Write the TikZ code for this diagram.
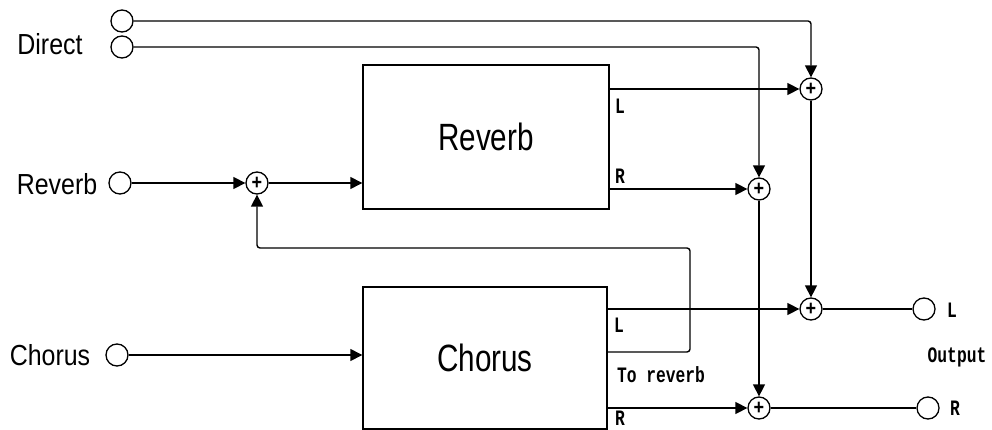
\documentclass[tikz,border=0pt]{standalone}
\usepackage{fontspec}
\usetikzlibrary{arrows.meta}
\newfontfamily\lblfont[FakeStretch=0.86]{Liberation Sans}
\newfontfamily\boxfont[FakeStretch=0.78]{Liberation Sans}
\newfontfamily\monofont[FakeStretch=0.74]{Liberation Mono}
\tikzset{
  wire/.style={line width=1.4pt, rounded corners=3pt},
  arr/.style={wire, -{Triangle[length=12pt,width=12pt]}},
  port/.style={circle, draw, line width=1.3pt, minimum size=22pt, inner sep=0pt},
  adder/.style={circle, draw, line width=1.3pt, minimum size=22pt, inner sep=0pt, font=\lblfont\bfseries\fontsize{21}{21}\selectfont},
  blockbox/.style={rectangle, draw, line width=1.4pt, inner sep=0pt, font=\boxfont\fontsize{38}{38}\selectfont},
  inlabel/.style={font=\lblfont\fontsize{29}{29}\selectfont, inner sep=0pt},
  small/.style={font=\monofont\bfseries\fontsize{22}{22}\selectfont, inner sep=0pt}
}
\begin{document}
\begin{tikzpicture}[x=1pt, y=-1pt]
\useasboundingbox (0,0) rectangle (992,430);
% input ports
\node[port] (d1) at (122,21) {};
\node[port] (d2) at (122,47) {};
\node[port] (rin) at (120,183) {};
\node[port] (cin) at (117,355) {};
\node[inlabel] (ldirect) at (50,44) {Direct};
\node[inlabel] (lreverb) at (57,184) {Reverb};
\node[inlabel] (lchorus) at (50,355) {Chorus};
% blocks
\node[blockbox, minimum width=246pt, minimum height=144pt] (rev) at (486,137) {Reverb};
\node[blockbox, minimum width=244pt, minimum height=142pt] (cho) at (485,358) {Chorus};
% adders
\node[adder] (a0) at (257,183) {+};
\node[adder] (a1) at (811,89) {+};
\node[adder] (a2) at (759,189) {+};
\node[adder] (a3) at (811,309) {+};
\node[adder] (a4) at (759,408) {+};
% outputs
\node[port] (oL) at (924,309) {};
\node[port] (oR) at (928,408) {};
% small labels
\node[small] (revL) at (620,106) {L};
\node[small] (revR) at (620,176) {R};
\node[small] (choL) at (619,325) {L};
\node[small] (tor) at (661,375) {To reverb};
\node[small] (choR) at (620,418) {R};
\node[small] (outL) at (952,310) {L};
\node[small] (outtext) at (957,357) {Output};
\node[small] (outR) at (955,408) {R};
% coordinates
\coordinate (fbA) at (607,352);
\coordinate (fbB) at (690,352);
\coordinate (fbC) at (690,248);
\coordinate (fbD) at (257,248);
% connectors
\draw[arr] (d1) -- (d1 -| a1) -- (a1);
\draw[arr] (d2) -- (d2 -| a2) -- (a2);
\draw[arr] (rin) -- (a0);
\draw[arr] (a0) -- (a0 -| rev.west);
\draw[arr] (cin) -- (cin -| cho.west);
\draw[arr] (rev.east |- a1) -- (a1);
\draw[arr] (rev.east |- a2) -- (a2);
\draw[arr] (cho.east |- a3) -- (a3);
\draw[arr] (cho.east |- a4) -- (a4);
\draw[arr] (a1) -- (a3);
\draw[arr] (a2) -- (a4);
\draw[wire] (a3) -- (oL);
\draw[wire] (a4) -- (oR);
\draw[arr] (fbA) -- (fbB) -- (fbC) -- (fbD) -- (a0);
\end{tikzpicture}
\end{document}
